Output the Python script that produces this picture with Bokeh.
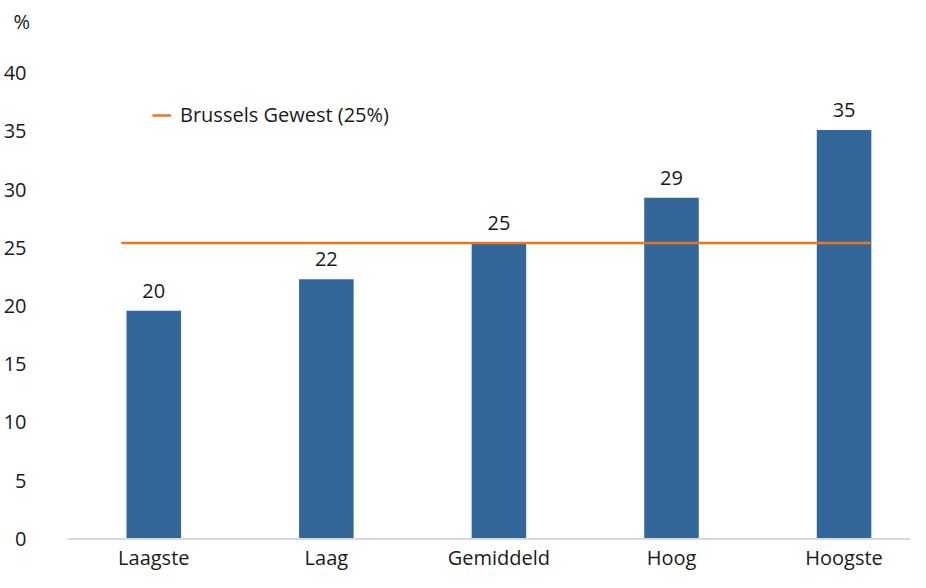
from bokeh.plotting import figure
from bokeh.models import ColumnDataSource, FixedTicker, Legend, LegendItem, Title, Span
from bokeh.embed import file_html
from bokeh.resources import INLINE
from bokeh.core.properties import value

# ---- data ----
categories = ["Laagste", "Laag", "Gemiddeld", "Hoog", "Hoogste"]
values = [19.6, 22.3, 25.4, 29.3, 35.1]
value_labels = ["20", "22", "25", "29", "35"]
brussels_value = 25.4
brussels_label = "Brussels Gewest (25%)"
y_ticks = [0, 5, 10, 15, 20, 25, 30, 35, 40]
unit_label = "%"

FONT = "Open Sans"
FS = "20px"
TEXT = "#1a1a1a"
BAR = "#336699"
ORANGE = "#E87722"
BAR_W = 0.316

xs = list(range(len(categories)))
zeros = [0] * len(categories)
src = ColumnDataSource(dict(x=xs, top=values, lbl=value_labels, cat=categories, base=zeros))

p = figure(width=910, height=572, output_backend="svg", toolbar_location=None,
           x_range=(-0.5, 4.385), y_range=(-2.88, 42.88), x_axis_location=None,
           min_border_left=60, min_border_right=0, min_border_top=0, min_border_bottom=0)
p.outline_line_color = None
p.xgrid.visible = False
p.ygrid.visible = False
p.background_fill_color = "white"
p.border_fill_color = "white"

# baseline at zero
p.add_layout(Span(location=0, dimension="width", line_color="#d9d9d9", line_width=2))

p.vbar(x="x", top="top", width=BAR_W, bottom=0, source=src, fill_color=BAR, line_color=None)
p.text(x="x", y="top", text="lbl", source=src, text_align="center", text_baseline="middle",
       y_offset=-20, text_font=value(FONT), text_font_size=FS, text_color=TEXT)

# category labels below baseline
p.text(x="x", y="base", text="cat", source=src, text_align="center", text_baseline="middle",
       y_offset=19, text_font=value(FONT), text_font_size=FS, text_color=TEXT)

r_line = p.line(x=[xs[0] - BAR_W / 2 - 0.03, xs[-1] + BAR_W / 2], y=[brussels_value, brussels_value],
                line_color=ORANGE, line_width=2.5)

legend = Legend(items=[LegendItem(label=brussels_label, renderers=[r_line])],
                location=(85, 444), padding=0, margin=0, glyph_width=19, glyph_height=20,
                label_standoff=9, label_text_font=FONT, label_text_font_size=FS,
                label_text_color=TEXT, border_line_color=None, background_fill_alpha=0)
p.add_layout(legend)

p.yaxis.ticker = FixedTicker(ticks=y_ticks)
p.yaxis.axis_line_color = None
p.yaxis.major_tick_line_color = None
p.yaxis.minor_tick_line_color = None
p.yaxis.major_label_standoff = 35
p.yaxis.major_label_text_font = FONT
p.yaxis.major_label_text_font_size = FS
p.yaxis.major_label_text_color = TEXT

p.add_layout(Title(text=unit_label, align="left", offset=-54, text_font=FONT,
                   text_font_size=FS, text_font_style="normal", text_color=TEXT), "above")

open("out.html", "w").write(file_html(p, INLINE))
